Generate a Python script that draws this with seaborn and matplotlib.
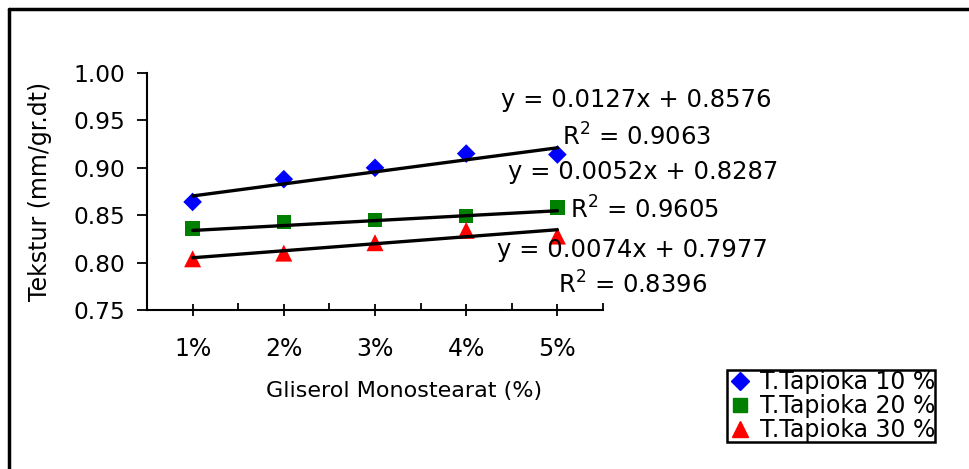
import numpy as np
import pandas as pd
import matplotlib
matplotlib.use("Agg")
import matplotlib.pyplot as plt
from matplotlib.lines import Line2D
from matplotlib.ticker import FixedLocator, NullFormatter
import seaborn as sns

# ---- data ----
categories = ["1%", "2%", "3%", "4%", "5%"]
series_names = ["T.Tapioka 10 %", "T.Tapioka 20 %", "T.Tapioka 30 %"]
tapioka_10 = [0.864, 0.888, 0.900, 0.915, 0.914]
tapioka_20 = [0.836, 0.843, 0.845, 0.849, 0.858]
tapioka_30 = [0.804, 0.810, 0.821, 0.834, 0.828]
slopes = [0.0127, 0.0052, 0.0074]
intercepts = [0.8576, 0.8287, 0.7977]
r_squared = ["0.9063", "0.9605", "0.8396"]
y_ticks = [0.75, 0.80, 0.85, 0.90, 0.95, 1.00]

sns.set_theme(style="white")
plt.rcParams["font.family"] = ["DejaVu Sans"]
plt.rcParams["text.color"] = "black"
plt.rcParams["xtick.color"] = "black"
plt.rcParams["ytick.color"] = "black"
plt.rcParams["axes.labelcolor"] = "black"

W, H = 970, 469
fig = plt.figure(figsize=(W / 100, H / 100), dpi=100)
ax = fig.add_axes([147 / W, 1 - 310 / H, (603 - 147) / W, (310 - 73) / H])

xpos = np.arange(1, len(categories) + 1)
series = [tapioka_10, tapioka_20, tapioka_30]
colors = ["#0000FF", "#008000", "#FF0000"]
markers = ["D", "s", "^"]
msizes = [90, 110, 150]

for vals, name, c, m, s in zip(series, series_names, colors, markers, msizes):
    sns.scatterplot(x=xpos, y=vals, ax=ax, color=c, marker=m, s=s,
                    edgecolor="none", zorder=3, legend=False)

# trend lines
x_end = np.array([xpos[0], xpos[-1]])
for sl, ic in zip(slopes, intercepts):
    sns.lineplot(x=x_end, y=sl * x_end + ic, ax=ax, color="black",
                 linewidth=2.4, zorder=4, legend=False)

ax.set_xlim(0.5, 5.5)
ax.set_ylim(0.75, 1.00)
ax.set_yticks(y_ticks)
ax.set_yticklabels([f"{v:.2f}" for v in y_ticks], fontsize=16.8, color="black")
ax.set_xticks(xpos)
ax.set_xticklabels(categories, fontsize=17, color="black")
ax.xaxis.set_minor_locator(FixedLocator(np.arange(0.5, 5.6, 1.0)))
ax.xaxis.set_minor_formatter(NullFormatter())

for side in ["top", "right"]:
    ax.spines[side].set_visible(False)
for side in ["left", "bottom"]:
    ax.spines[side].set_color("black")
    ax.spines[side].set_linewidth(1.5)

ax.tick_params(axis="y", which="major", direction="out", length=7, width=1.3,
               color="black", left=True, pad=9)
ax.tick_params(axis="x", which="major", direction="inout", length=9, width=1.3,
               color="black", bottom=True, pad=15)
ax.tick_params(axis="x", which="minor", direction="in", length=5, width=1.3,
               color="black", bottom=True)

ax.set_xlabel("")
ax.set_ylabel("")
fig.text(404 / W, 1 - 391 / H, "Gliserol Monostearat (%)", fontsize=16,
         color="black", ha="center", va="center")
fig.text(40 / W, 1 - 191 / H, "Tekstur (mm/gr.dt)", fontsize=17, color="black",
         ha="center", va="center", rotation=90)

# equations
eq_pos = [((636, 100), (637, 137)), ((643, 172), (645, 210)), ((632, 250), (633, 285))]
for sl, ic, r2, (p1, p2) in zip(slopes, intercepts, r_squared, eq_pos):
    fig.text(p1[0] / W, 1 - p1[1] / H, f"y = {sl:.4f}x + {ic:.4f}", fontsize=17.5,
             color="black", ha="center", va="center")
    fig.text(p2[0] / W, 1 - p2[1] / H, f"R$^2$ = {r2}", fontsize=17.5,
             color="black", ha="center", va="center")

# legend
handles = [Line2D([], [], linestyle="none", marker=m, color=c, markersize=ms)
           for m, c, ms in zip(markers, colors, [9, 10, 12])]
leg = fig.legend(handles, series_names, loc="upper left",
                 bbox_to_anchor=(727 / W, 1 - 370 / H), fontsize=17,
                 frameon=True, fancybox=False, framealpha=1, edgecolor="black",
                 borderpad=0.0, labelspacing=0.0, handletextpad=0.3,
                 handlelength=1.1, borderaxespad=0)
leg.get_frame().set_linewidth(1.8)
for t in leg.get_texts():
    t.set_color("black")

# outer border (top and left visible)
fig.add_artist(Line2D([9 / W, 1.0], [1 - 9 / H, 1 - 9 / H], color="black", lw=2.5))
fig.add_artist(Line2D([9 / W, 9 / W], [0.0, 1 - 9 / H], color="black", lw=2.5))

fig.savefig("out.png", dpi=100)
